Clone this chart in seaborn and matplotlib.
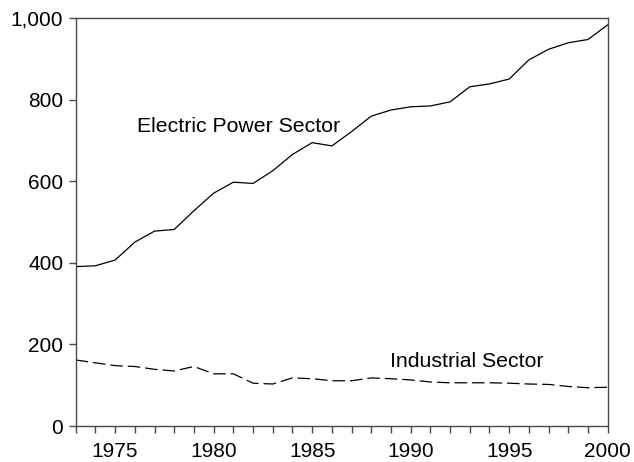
import matplotlib
matplotlib.use("Agg")
import matplotlib.pyplot as plt
import seaborn as sns
import pandas as pd
from matplotlib.ticker import FuncFormatter, MultipleLocator

years = list(range(1973, 2001))
electric_power = [391, 393, 407, 451, 478, 482, 528, 571, 598, 595, 626, 666,
                  695, 687, 722, 760, 775, 783, 785, 795, 832, 839, 851, 898,
                  924, 940, 948, 984]
industrial = [162, 155, 148, 146, 139, 135, 146, 128, 128, 105, 103, 118,
              116, 111, 111, 118, 116, 113, 108, 106, 106, 106, 105, 103,
              102, 97, 94, 95]
series_names = ["Electric Power Sector", "Industrial Sector"]

df = pd.concat([
    pd.DataFrame({"year": years, "value": electric_power, "sector": series_names[0]}),
    pd.DataFrame({"year": years, "value": industrial, "sector": series_names[1]}),
])

sns.set_theme(style="white")
plt.rcParams["font.family"] = ["Liberation Sans", "DejaVu Sans"]
plt.rcParams["text.color"] = "black"

fig = plt.figure(figsize=(6.34, 4.62), dpi=100)
ax = fig.add_axes([0.1194, 0.0779, 0.8391, 0.8825])

sns.lineplot(data=df, x="year", y="value", style="sector",
             dashes={series_names[0]: "", series_names[1]: (10, 4)},
             color="black", linewidth=0.9, legend=False, ax=ax)

ax.set_xlim(1973, 2000)
ax.set_ylim(0, 1000)
ax.set_xticks(years)
ax.set_xticklabels([str(y) if y % 5 == 0 else "" for y in years])
ax.yaxis.set_major_locator(MultipleLocator(200))
ax.yaxis.set_major_formatter(FuncFormatter(lambda v, p: f"{int(v):,}"))
ax.set_xlabel("")
ax.set_ylabel("")

for s in ax.spines.values():
    s.set_color("#4a4a4a")
    s.set_linewidth(1.0)
ax.tick_params(axis="both", direction="out", length=5, width=1.0,
               color="#4a4a4a", labelsize=15, labelcolor="black",
               bottom=True, left=True)
ax.tick_params(axis="x", pad=6.5)
ax.tick_params(axis="y", pad=4)

ax.text(1976.1, 734, series_names[0], fontsize=15.3, color="black",
        va="center", ha="left")
ax.text(1988.95, 159, series_names[1], fontsize=15.3, color="black",
        va="center", ha="left")

fig.savefig("out.png", dpi=100)
